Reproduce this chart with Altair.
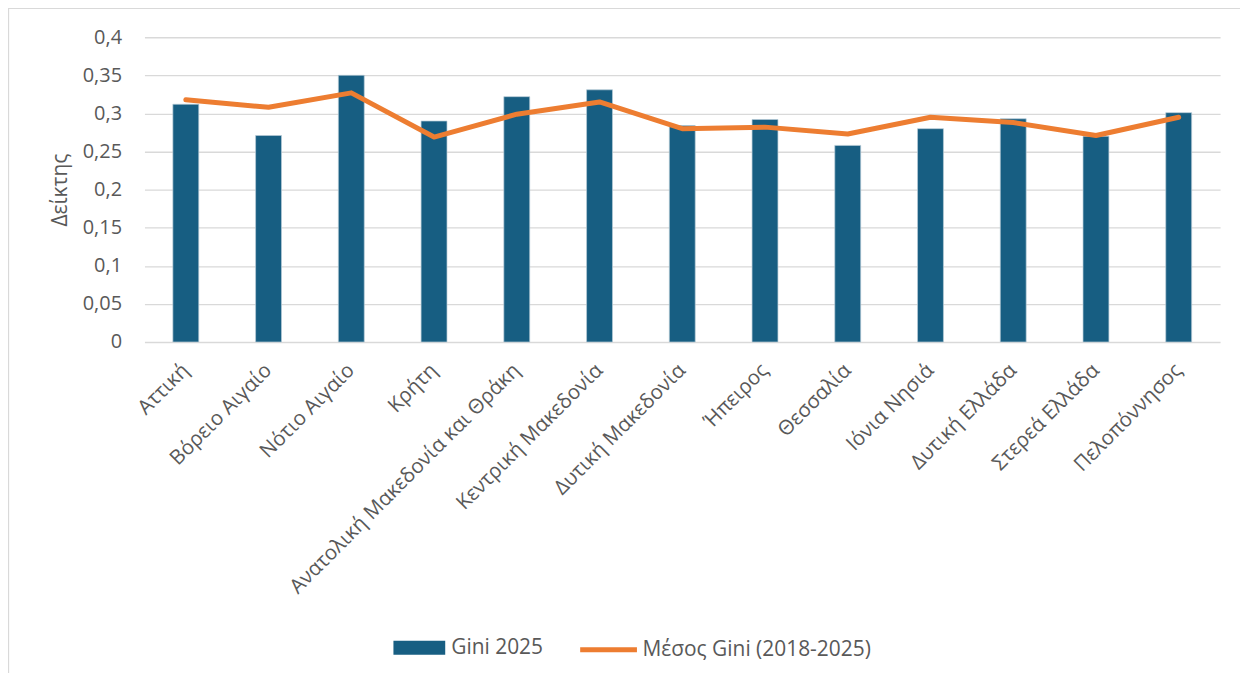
import altair as alt
import pandas as pd

regions = ["Αττική", "Βόρειο Αιγαίο", "Νότιο Αιγαίο", "Κρήτη",
           "Ανατολική Μακεδονία και Θράκη", "Κεντρική Μακεδονία",
           "Δυτική Μακεδονία", "Ήπειρος", "Θεσσαλία", "Ιόνια Νησιά",
           "Δυτική Ελλάδα", "Στερεά Ελλάδα", "Πελοπόννησος"]
gini_2025 = [0.312, 0.271, 0.350, 0.290, 0.322, 0.331, 0.284,
             0.292, 0.258, 0.280, 0.293, 0.270, 0.301]
gini_mean = [0.318, 0.308, 0.327, 0.269, 0.299, 0.315, 0.280,
             0.282, 0.273, 0.295, 0.288, 0.271, 0.295]
y_ticks = [0, 0.05, 0.1, 0.15, 0.2, 0.25, 0.3, 0.35, 0.4]
series_bar = "Gini 2025"
series_line = "Μέσος Gini (2018-2025)"
y_title = "Δείκτης"

BAR = "#175e82"
LINE = "#ed7d31"
GRID = "#d9d9d9"
TXT = "#595959"
FONT = "Open Sans"

df = pd.DataFrame({
    "region": regions,
    "gini": gini_2025,
    "mean": gini_mean,
    "s_bar": series_bar,
    "s_line": series_line,
})

x_enc = alt.X(
    "region:N", sort=regions, title=None,
    scale=alt.Scale(paddingInner=0.687, paddingOuter=0.3435),
    axis=alt.Axis(labelAngle=-45, labelAlign="right", labelBaseline="middle",
                  labelPadding=25, labelFontSize=20.5, labelColor=TXT,
                  labelFont=FONT, ticks=False, domain=False, grid=False,
                  labelLimit=0, labelOverlap=False),
)

y_axis = alt.Axis(values=y_ticks, tickCount=9,
                  labelExpr="replace(toString(datum.value), '.', ',')",
                  labelFontSize=20, labelColor=TXT, labelFont=FONT, labelPadding=23,
                  labelOverlap=False,
                  ticks=False, domain=False, grid=True, gridColor=GRID, gridWidth=1.3,
                  title=y_title, titleFontSize=21, titleFontWeight="normal",
                  titleColor=TXT, titleFont=FONT, titlePadding=12)

y_scale = alt.Scale(domain=[0, 0.4], nice=False)

frame = alt.Chart(alt.Data(values=[{"a": 1}])).mark_rect(
    filled=False, stroke=GRID, strokeWidth=1.3
).encode(x=alt.value(-136.5), x2=alt.value(1120), y=alt.value(-29), y2=alt.value(700))

bars = alt.Chart(df).mark_bar(stroke="#b7cbd7", strokeWidth=0.7).encode(
    x=x_enc,
    y=alt.Y("gini:Q", scale=y_scale, axis=y_axis),
    color=alt.Color("s_bar:N", scale=alt.Scale(domain=[series_bar], range=[BAR]),
                    legend=alt.Legend(title=None, orient="none", legendX=250, legendY=587,
                                      symbolType="M-1,-0.27H1V0.27H-1Z", symbolSize=2704,
                                      symbolStrokeWidth=0, labelFontSize=21, labelOffset=6,
                                      labelColor=TXT, labelFont=FONT, padding=0,
                                      labelLimit=0)),
)

line = alt.Chart(df).mark_line(strokeWidth=5, strokeCap="round", strokeJoin="round").encode(
    x=x_enc,
    y=alt.Y("mean:Q", scale=y_scale, axis=y_axis),
    color=alt.Color("s_line:N", scale=alt.Scale(domain=[series_line], range=[LINE]),
                    legend=alt.Legend(title=None, orient="none", legendX=435, legendY=584,
                                      symbolType="stroke", symbolSize=3249,
                                      symbolStrokeWidth=5, labelFontSize=21, labelOffset=3,
                                      labelColor=TXT, labelFont=FONT, padding=0,
                                      labelLimit=0)),
)

chart = alt.layer(frame, bars, line).resolve_scale(color="independent").properties(
    width=1080, height=306,
    autosize=alt.AutoSizeParams(type="none"),
    padding={"left": 137, "top": 28, "right": 20, "bottom": 331},
    background="white",
).configure(font=FONT).configure_view(strokeWidth=0)

chart.save("out.html", embed_options={"renderer": "svg", "actions": False})
